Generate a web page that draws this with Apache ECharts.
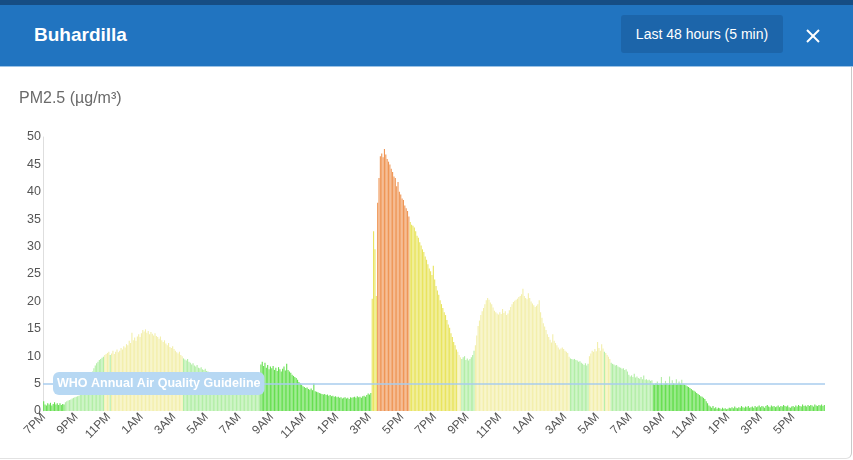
<!DOCTYPE html>
<html>
<head>
<meta charset="utf-8">
<script src="https://cdn.jsdelivr.net/npm/echarts@6/dist/echarts.min.js"></script>
<style>
  html, body { margin:0; padding:0; width:853px; height:460px; overflow:hidden; background:#fff; font-family:"Liberation Sans", Arial, Helvetica, sans-serif; }
  #topstrip { position:absolute; left:0; top:0; width:853px; height:5px; background:#164d84; }
  #header { position:absolute; left:0; top:5px; width:853px; height:61px; background:#2174c0; }
  #title { position:absolute; left:34px; top:19px; color:#fff; font-weight:bold; font-size:19px; }
  #btn { position:absolute; left:621px; top:10px; width:162px; height:38px; background:#1c65aa; border-radius:3px; color:#fff; font-size:14px; line-height:38px; text-align:center; }
  #close { position:absolute; left:805px; top:23px; }
  #sep { position:absolute; left:0; top:66px; width:853px; height:1px; background:#9cc3e6; }
  #frame { position:absolute; left:0; top:67px; width:851px; height:391px; border-right:1px solid #c9c9c9; border-bottom:1px solid #e2e2e2; border-bottom-right-radius:6px; }
  #chart { position:absolute; left:0; top:0; width:853px; height:460px; }
</style>
</head>
<body>
<div id="frame"></div>
<div id="chart"></div>
<div id="topstrip"></div>
<div id="header">
  <div id="title">Buhardilla</div>
  <div id="btn">Last 48 hours (5 min)</div>
  <svg id="close" width="16" height="16" viewBox="0 0 16 16"><line x1="2" y1="2" x2="14" y2="14" stroke="#fff" stroke-width="2"/><line x1="14" y1="2" x2="2" y2="14" stroke="#fff" stroke-width="2"/></svg>
</div>
<div id="sep"></div>
<script>
// ---- tick labels (one per hour, 12 five-minute bars per hour) ----
const hourLabels = ['7PM','8PM','9PM','10PM','11PM','12AM','1AM','2AM','3AM','4AM','5AM','6AM',
  '7AM','8AM','9AM','10AM','11AM','12PM','1PM','2PM','3PM','4PM','5PM','6PM',
  '7PM','8PM','9PM','10PM','11PM','12AM','1AM','2AM','3AM','4AM','5AM','6AM',
  '7AM','8AM','9AM','10AM','11AM','12PM','1PM','2PM','3PM','4PM','5PM','6PM'];

// ---- PM2.5 values, 5-minute readings, in 6-hour blocks ----
const pm_7pm_1am_d1 = [
  1.8,1.2,1.0,1.4,1.2,1.5,1.0,1.3,1.6,1.2,1.4,1.1,
  1.4,1.1,1.3,1.2,1.6,1.8,1.9,2.0,2.1,2.3,2.4,2.5,
  2.6,2.7,2.8,3.0,3.2,3.5,3.9,4.4,5.0,5.5,6.0,6.5,
  7.2,7.8,8.3,8.7,9.0,9.3,9.5,9.7,9.9,10.2,10.4,10.6,
  10.8,10.2,10.5,11.0,10.4,10.8,11.2,10.7,11.0,11.5,11.2,11.8,
  11.6,12.2,12.0,12.8,12.4,14.3,12.9,13.4,12.8,13.6,14.0,13.5];
const pm_1am_7am_d1 = [
  14.2,14.8,14.5,14.9,14.3,14.6,14.0,14.4,14.1,13.8,14.2,13.7,
  13.5,13.2,13.6,12.9,12.6,12.9,12.3,12.0,12.4,11.7,11.5,11.8,
  11.3,11.0,10.7,10.5,10.8,10.2,10.0,9.6,9.4,9.2,9.5,9.0,
  8.8,8.5,8.7,8.3,8.1,8.4,7.9,7.8,8.0,7.6,7.5,7.7,
  7.3,7.2,7.0,7.1,6.9,6.8,7.0,6.7,6.6,6.8,6.5,6.4,
  6.3,6.2,6.0,6.1,5.9,6.0,5.8,5.9,5.7,5.8,5.6,5.7];
const pm_7am_1pm_d1 = [
  5.6,5.5,5.4,5.5,5.3,5.4,5.2,5.3,5.2,5.1,5.3,5.2,
  5.2,5.1,5.3,5.0,8.5,9.0,8.2,8.8,7.9,8.4,7.6,8.1,
  7.8,8.2,7.5,7.9,7.3,8.0,7.6,7.2,7.7,8.1,7.4,8.6,
  7.5,7.2,7.0,6.6,6.4,6.2,6.0,5.7,5.3,5.0,4.8,4.5,
  4.4,4.2,4.3,4.0,3.9,4.1,3.8,5.0,3.6,3.5,3.4,3.3,
  3.2,3.1,3.0,3.1,2.9,3.0,2.8,2.9,2.7,2.8,2.6,2.7];
const pm_1pm_7pm_d1 = [
  2.5,2.6,2.4,2.5,2.3,2.4,2.5,2.3,2.4,2.2,2.5,2.4,
  2.5,2.6,2.4,2.7,2.5,2.6,2.4,2.7,2.8,2.6,2.9,3.2,
  3.0,3.3,20.5,32.8,29.5,21.0,38.0,42.5,46.5,47.0,46.3,47.8,
  46.8,46.0,45.5,45.0,44.2,43.6,42.8,42.5,41.0,41.8,40.0,39.5,
  38.8,38.5,37.5,37.0,36.5,35.5,34.5,34.0,33.8,33.5,32.8,32.0,
  31.6,30.8,30.2,29.5,29.0,28.2,27.6,26.8,26.0,25.5,24.8,26.5];
const pm_7pm_1am_d2 = [
  24.0,22.8,22.0,21.2,20.2,19.5,18.8,18.0,17.5,16.6,15.8,15.2,
  14.2,13.5,12.6,12.0,11.2,10.8,10.2,9.8,9.5,9.8,10.0,9.3,
  9.6,9.2,9.5,9.8,10.2,11.0,12.0,13.8,15.5,16.5,17.5,18.2,
  18.8,19.5,20.2,20.6,20.3,19.8,19.5,18.9,18.3,18.0,17.8,17.6,
  18.0,17.7,18.6,17.9,18.2,17.5,17.8,18.4,19.0,19.5,19.9,20.1,
  20.3,20.5,20.8,21.0,21.3,22.3,21.0,20.6,20.4,21.5,20.6,20.0];
const pm_1am_7am_d2 = [
  19.6,19.3,19.0,19.2,19.5,20.2,18.0,17.0,16.0,15.4,14.8,14.0,
  13.5,13.0,12.5,14.0,12.8,12.4,12.0,11.6,11.2,11.4,11.6,11.3,
  11.0,10.8,10.6,9.9,9.6,9.5,9.4,9.5,9.3,9.2,9.0,9.1,
  8.8,8.6,8.4,8.7,8.3,8.6,10.0,10.5,11.0,10.8,11.3,10.9,
  12.6,11.5,11.0,12.2,11.4,10.8,10.6,10.2,9.9,9.5,8.8,8.6,
  8.5,8.3,8.4,8.1,8.0,7.9,7.7,7.8,7.5,7.6,7.2,6.6];
const pm_7am_1pm_d2 = [
  6.3,6.5,6.2,6.8,6.1,6.3,6.0,5.9,6.2,5.8,6.5,5.7,
  5.8,5.6,5.7,5.5,5.6,4.9,4.8,5.0,4.9,4.8,4.9,5.0,
  4.8,4.9,4.9,5.0,4.8,4.9,4.9,4.8,5.0,4.9,4.8,4.9,
  5.0,4.9,4.8,4.9,4.8,4.7,4.5,4.4,4.2,4.0,3.8,3.7,
  3.5,3.3,3.1,2.9,2.7,2.6,2.4,2.2,1.8,1.4,1.0,0.8,
  0.6,0.9,0.5,0.7,0.4,0.6,0.5,0.3,0.6,0.4,0.5,0.3];
const pm_1pm_7pm_d2 = [
  0.4,0.6,0.5,0.7,0.5,0.8,0.6,0.5,0.7,0.6,0.9,0.7,
  0.6,0.8,0.7,0.9,0.6,0.7,0.8,0.6,0.9,0.7,0.8,1.0,
  0.7,0.9,0.8,0.6,0.9,1.1,0.8,0.7,1.0,0.8,0.9,0.7,
  0.8,1.0,0.7,0.9,0.8,1.1,0.9,0.8,1.0,0.7,0.6,0.8,
  0.9,0.7,1.0,0.8,1.1,0.9,0.8,1.2,0.9,1.0,0.8,1.1,
  0.9,1.1,1.0,0.8,1.2,1.0,0.9,1.1,1.0,1.2,0.9,1.1];

// ---- pale readings standing above the bright bars (morning, day 2) ----
const spikeIdx = [452, 455, 458, 461, 463, 466, 468, 470];
const spikeVal = [5.4, 6.2, 5.5, 6.3, 5.6, 5.8, 5.4, 5.7];

// ---- colour bands: first bar index of each band and its class ----
const bandStart = [0, 16, 45, 49, 50, 103, 160, 242, 246, 270, 305, 308, 318, 388, 402, 413, 414, 418, 449];
const bandClass = ['greenB','greenP','yellowP','greenP','yellowP','greenP','greenB','yellowB','orange','yellowB',
                   'yellowP','greenP','yellowP','greenP','yellowP','greenP','yellowP','greenP','greenB'];

// ---- WHO guideline ----
const whoLevel = 5;
const whoText = 'WHO Annual Air Quality Guideline';

const palette = { greenB:'#66df50', greenP:'#b2eea6', yellowP:'#f3efac', yellowB:'#e9e45e', orange:'#ef9656' };

const values = [].concat(pm_7pm_1am_d1, pm_1am_7am_d1, pm_7am_1pm_d1, pm_1pm_7pm_d1,
                         pm_7pm_1am_d2, pm_1am_7am_d2, pm_7am_1pm_d2, pm_1pm_7pm_d2);
const categories = [];
hourLabels.forEach(function (h) { for (let m = 0; m < 12; m++) categories.push(h + '|' + m); });

function classOf(i) {
  let c = bandClass[0];
  for (let b = 0; b < bandStart.length; b++) { if (i >= bandStart[b]) c = bandClass[b]; }
  return c;
}
const mainData = values.map(function (v, i) {
  return { value: v, itemStyle: { color: palette[classOf(i)] } };
});
const spikeData = values.map(function () { return null; });
spikeIdx.forEach(function (ix, k) { spikeData[ix] = spikeVal[k]; });

const chart = echarts.init(document.getElementById('chart'), null, { renderer: 'canvas' });
chart.setOption({
  animation: false,
  textStyle: { fontFamily: '"Liberation Sans", Arial, sans-serif' },
  title: {
    text: 'PM2.5 (µg/m³)', left: 14, top: 86,
    textStyle: { fontSize: 16, fontWeight: 'normal', color: '#6a6a6a' }
  },
  grid: { left: 43, right: 28, top: 137, bottom: 49 },
  xAxis: {
    type: 'category',
    data: categories,
    boundaryGap: true,
    axisLine: { show: false },
    axisTick: { show: false },
    axisLabel: {
      interval: 23, rotate: 45, margin: 4, fontSize: 12, color: '#555',
      formatter: function (v) { return v.split('|')[0]; }
    },
    splitLine: { show: false }
  },
  yAxis: {
    type: 'value', min: 0, max: 50, interval: 5,
    axisLine: { show: true, lineStyle: { color: '#dedede' } },
    axisTick: { show: false },
    splitLine: { show: false },
    axisLabel: { margin: 2, fontSize: 12.5, color: '#555' }
  },
  series: [
    {
      type: 'bar', name: 'pale', data: spikeData,
      itemStyle: { color: palette.greenP },
      barGap: '-100%', barCategoryGap: '18%', silent: true
    },
    {
      type: 'bar', name: 'PM2.5', data: mainData,
      barGap: '-100%', barCategoryGap: '18%',
      markLine: {
        silent: true, symbol: 'none',
        lineStyle: { color: '#a9cdee', width: 1.5, type: 'solid' },
        label: {
          show: true, position: 'insideStart', distance: 10,
          formatter: whoText,
          color: '#fff', fontWeight: 'bold', fontSize: 12.5, lineHeight: 15,
          backgroundColor: '#b7d8f3', padding: [4, 4, 4, 4], borderRadius: 6
        },
        data: [{ yAxis: whoLevel }]
      }
    }
  ]
});
</script>
</body>
</html>
